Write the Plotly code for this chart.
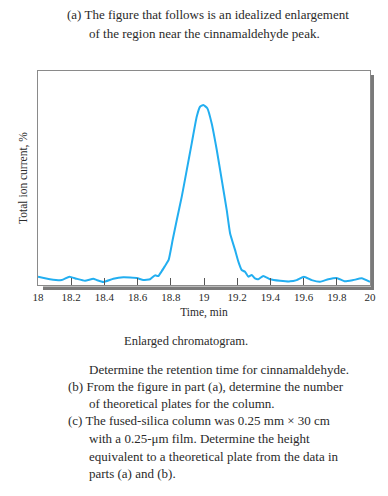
import plotly.graph_objects as go

# ---- data ----
time_min = [18.0, 18.072, 18.143, 18.189, 18.233, 18.283, 18.333, 18.354, 18.393, 18.454,
            18.514, 18.595, 18.634, 18.675, 18.705, 18.725, 18.745, 18.765, 18.787, 18.811,
            18.836, 18.866, 18.896, 18.926, 18.956, 18.976, 18.996, 19.020, 19.046, 19.077,
            19.107, 19.137, 19.157, 19.187, 19.207, 19.227, 19.247, 19.267, 19.287, 19.307,
            19.327, 19.357, 19.398, 19.458, 19.518, 19.558, 19.602, 19.649, 19.699, 19.749,
            19.799, 19.849, 19.899, 19.950, 20.0]
ion_current = [3.9, 2.7, 2.3, 3.9, 2.9, 2.0, 2.9, 2.3, 1.4, 2.9,
               3.6, 3.3, 2.3, 2.7, 4.5, 4.2, 6.4, 8.9, 11.7, 21.0,
               30.4, 41.3, 53.7, 66.2, 78.6, 83.3, 84.1, 82.6, 75.6, 63.1,
               49.1, 35.0, 24.2, 16.4, 10.9, 7.0, 6.2, 3.9, 4.7, 3.1,
               2.7, 4.2, 2.7, 2.0, 1.7, 2.3, 3.9, 2.3, 1.5, 2.7,
               3.3, 1.7, 2.3, 3.1, 1.5]
tick_vals = [18.0, 18.2, 18.4, 18.6, 18.8, 19.0, 19.2, 19.4, 19.6, 19.8, 20.0]
tick_text = ["18", "18.2", "18.4", "18.6", "18.8", "19", "19.2", "19.4", "19.6", "19.8", "20"]

intro_lines = ["(a) The figure that follows is an idealized enlargement",
               "of the region near the cinnamaldehyde peak."]
caption = "Enlarged chromatogram."
question_lines = ["Determine the retention time for cinnamaldehyde.",
                  "(b) From the figure in part (a), determine the number",
                  "of theoretical plates for the column.",
                  "(c) The fused-silica column was 0.25 mm × 30 cm",
                  "with a 0.25-μm film. Determine the height",
                  "equivalent to a theoretical plate from the data in",
                  "parts (a) and (b)."]

W, H = 388, 496
L, R, T, B = 38, 370, 71, 285
SERIF = "Liberation Serif, Times New Roman, serif"
TXT = "#2a2a2a"

fig = go.Figure()
fig.add_trace(go.Scatter(x=time_min, y=ion_current, mode="lines",
                         line=dict(color="#22aef0", width=2, shape="spline", smoothing=0.4),
                         hoverinfo="skip", showlegend=False))

def px2paper(x, y):
    return (x - L) / (R - L), (B - y) / (B - T)

shapes = []
# drop shadow on right and bottom
bx0, by0 = px2paper(43, 290)
bx1, by1 = px2paper(374, 286.5)
shapes.append(dict(type="rect", xref="paper", yref="paper", x0=bx0, x1=bx1, y0=by0, y1=by1,
                   fillcolor="#7a7a7a", line=dict(width=0), layer="below"))
rx0, ry0 = px2paper(371, 290)
rx1, ry1 = px2paper(374, 75)
shapes.append(dict(type="rect", xref="paper", yref="paper", x0=rx0, x1=rx1, y0=ry0, y1=ry1,
                   fillcolor="#7a7a7a", line=dict(width=0), layer="below"))

annotations = []
def add_text(text, x, y, size, anchor="left"):
    px, py = px2paper(x, y)
    annotations.append(dict(text=text, x=px, y=py, xref="paper", yref="paper",
                            xanchor=anchor, yanchor="middle", showarrow=False,
                            font=dict(family=SERIF, size=size, color=TXT)))

add_text(intro_lines[0], 65, 15, 13)
add_text(intro_lines[1], 87, 33, 13)
add_text(caption, 186, 341, 12.5, anchor="center")
q_pos = [(87, 369), (66, 386), (87, 403), (66, 420), (87, 438), (87, 456), (87, 473)]
for line, (qx, qy) in zip(question_lines, q_pos):
    add_text(line, qx, qy, 13)

fig.update_layout(
    width=W, height=H,
    margin=dict(l=L, r=W - R, t=T, b=H - B, pad=0),
    paper_bgcolor="white", plot_bgcolor="white",
    shapes=shapes, annotations=annotations,
    xaxis=dict(range=[18, 20], tickvals=tick_vals, ticktext=tick_text,
               ticks="inside", ticklen=7, tickcolor="#555", tickwidth=1,
               showline=True, linecolor="#8a8a8a", linewidth=1, mirror=True,
               showgrid=False, zeroline=False, ticklabelstandoff=2,
               tickfont=dict(family=SERIF, size=11, color=TXT),
               title=dict(text="Time, min", font=dict(family=SERIF, size=11.5, color=TXT), standoff=5)),
    yaxis=dict(range=[0, 100], showticklabels=False, ticks="",
               showline=True, linecolor="#8a8a8a", linewidth=1, mirror=True,
               showgrid=False, zeroline=False,
               title=dict(text="Total ion current, %", font=dict(family=SERIF, size=11.5, color=TXT), standoff=6)),
)

fig.write_html("out.html", config={"displayModeBar": False},
               post_script="document.body.style.margin='0px';document.body.style.overflow='hidden';")
